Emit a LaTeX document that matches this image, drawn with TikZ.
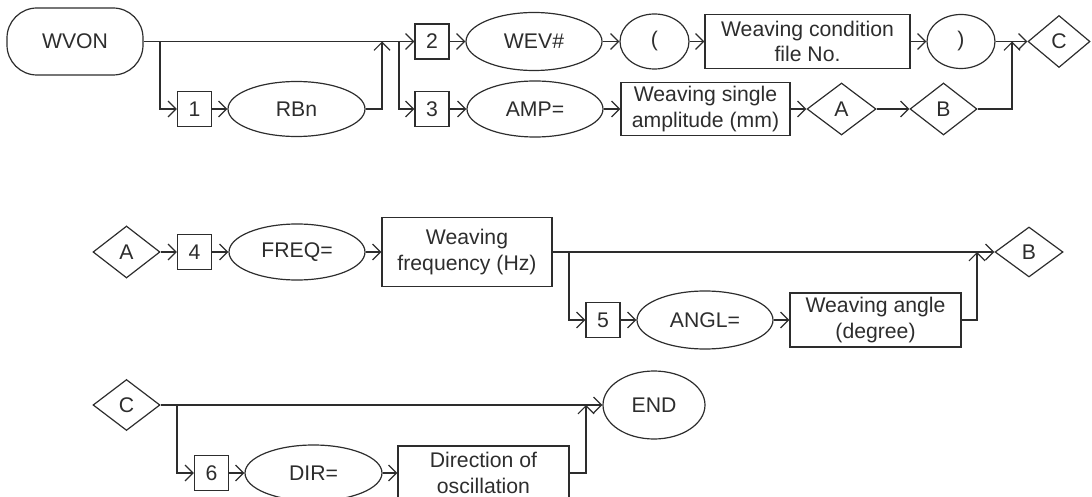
\documentclass[tikz,border=0pt]{standalone}
\usepackage{fontspec}
\setmainfont{Liberation Sans}
\usetikzlibrary{shapes.geometric,arrows.meta}
\definecolor{ink}{RGB}{45,45,45}
\tikzset{
  base/.style={draw=ink, line width=1.2pt, text=ink, font=\fontsize{21.2}{25.5}\selectfont, inner sep=0pt, align=center},
  sq/.style={base, rectangle, minimum width=34pt, minimum height=35pt},
  ov/.style={base, ellipse, minimum width=136pt, minimum height=56pt},
  rb/.style={base, rectangle},
  pill/.style={base, rectangle, rounded corners=30pt},
  dm/.style={base, diamond, minimum width=67pt, minimum height=52pt},
  arr/.style={draw=ink, line width=1.2pt, -{Straight Barb[length=8pt,width=16pt]}},
}
\begin{document}
\begin{tikzpicture}[x=1pt,y=-1pt]
\useasboundingbox (0,0) rectangle (1092,497);
\clip (0,0) rectangle (1092,497);
% row 1
\node[pill, minimum width=136pt, minimum height=67pt] (wvon) at (75,41.5) {WVON};
\node[sq] (b1) at (194.5,109) {1};
\node[ov, minimum width=137pt, minimum height=55pt] (rbn) at (296.5,109) {RBn};
\node[sq] (b2) at (432,41.5) {2};
\node[ov, minimum height=58pt] (wev) at (534,41.5) {WEV\#};
\node[ov, minimum width=69pt, minimum height=55pt] (lp) at (654.5,41.5) {(};
\node[rb, minimum width=205pt, minimum height=54pt] (wcf) at (807.5,41.5) {Weaving condition\\file No.};
\node[ov, minimum width=68pt, minimum height=54pt] (rp) at (961,41.5) {)};
\node[dm, minimum width=62pt] (dc1) at (1059,41.5) {C};
\node[sq] (b3) at (432,109) {3};
\node[ov] (amp) at (535,109) {AMP=};
\node[rb, minimum width=169pt, minimum height=53pt] (wsa) at (705.5,109) {Weaving single\\amplitude (mm)};
\node[dm, minimum width=69pt] (da1) at (841.5,109) {A};
\node[dm] (db1) at (943.5,109) {B};
% row 2
\node[dm] (da2) at (126.5,252) {A};
\node[sq] (b4) at (194.5,252) {4};
\node[ov] (freq) at (297,252) {FREQ=};
\node[rb, minimum width=170pt, minimum height=69pt] (wfh) at (467,252) {Weaving\\frequency (Hz)};
\node[dm, minimum width=68pt, minimum height=50pt] (db2) at (1029,252) {B};
\node[sq] (b5) at (603,320) {5};
\node[ov, minimum height=58pt] (angl) at (705,320) {ANGL=};
\node[rb, minimum width=171pt, minimum height=54pt] (wad) at (875.5,320) {Weaving angle\\(degree)};
% row 3
\node[dm, minimum height=51pt] (dc2) at (126.5,405) {C};
\node[ov, minimum width=102pt, minimum height=68pt] (end) at (654,405) {END};
\node[sq] (b6) at (211.5,473) {6};
\node[ov, minimum width=137pt] (dir) at (313.5,473) {DIR=};
\node[rb, minimum width=171pt, minimum height=54pt] (doo) at (483.5,473) {Direction of\\oscillation};
% junctions
\coordinate (s1) at (160,41.5);
\coordinate (m1) at (382,41.5);
\coordinate (s2) at (399,41.5);
\coordinate (m2) at (1012,41.5);
\coordinate (s3) at (569,252);
\coordinate (m3) at (977,252);
\coordinate (s4) at (177,405);
\coordinate (m4) at (586,405);
% connectors row 1
\draw[arr] (wvon) -- (b2);
\draw[arr] (s1) |- (b1);
\draw[arr] (b1) -- (rbn);
\draw[arr] (rbn) -| (m1);
\draw[arr] (s2) |- (b3);
\draw[arr] (b2) -- (wev);
\draw[arr] (wev) -- (lp);
\draw[arr] (lp) -- (wcf);
\draw[arr] (wcf) -- (rp);
\draw[arr] (rp) -- (dc1);
\draw[arr] (b3) -- (amp);
\draw[arr] (amp) -- (wsa);
\draw[arr] (wsa) -- (da1);
\draw[arr] (da1) -- (db1);
\draw[arr] (db1) -| (m2);
% connectors row 2
\draw[arr] (da2) -- (b4);
\draw[arr] (b4) -- (freq);
\draw[arr] (freq) -- (wfh);
\draw[arr] (wfh) -- (db2);
\draw[arr] (s3) |- (b5);
\draw[arr] (b5) -- (angl);
\draw[arr] (angl) -- (wad);
\draw[arr] (wad) -| (m3);
% connectors row 3
\draw[arr] (dc2) -- (end);
\draw[arr] (s4) |- (b6);
\draw[arr] (b6) -- (dir);
\draw[arr] (dir) -- (doo);
\draw[arr] (doo) -| (m4);
\end{tikzpicture}
\end{document}
